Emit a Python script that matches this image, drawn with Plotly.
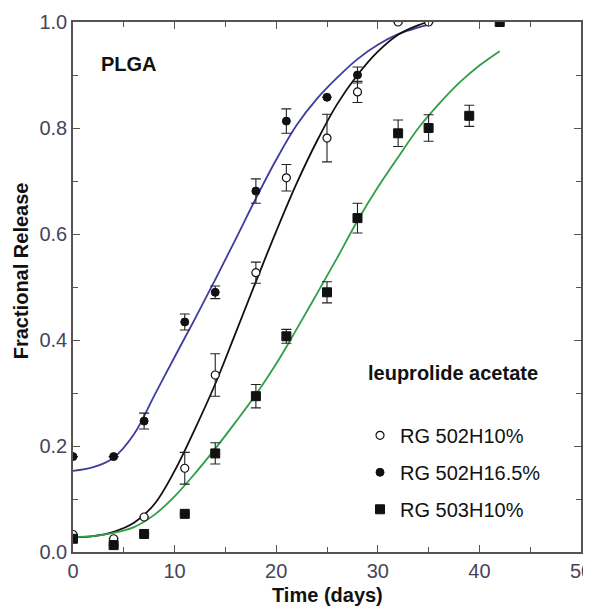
import plotly.graph_objects as go

# ---- data ----
t_502h10 = [0, 4, 7, 11, 14, 18, 21, 25, 28, 32, 35]
y_502h10 = [0.033, 0.025, 0.066, 0.158, 0.334, 0.527, 0.706, 0.781, 0.868, 1.0, 1.0]
e_502h10 = [0.0, 0.0, 0.0, 0.030, 0.040, 0.020, 0.025, 0.045, 0.020, 0.0, 0.0]

t_502h165 = [0, 4, 7, 11, 14, 18, 21, 25, 28]
y_502h165 = [0.180, 0.180, 0.247, 0.434, 0.490, 0.681, 0.813, 0.858, 0.900]
e_502h165 = [0.0, 0.0, 0.015, 0.015, 0.012, 0.023, 0.023, 0.0, 0.015]

t_503h10 = [0, 4, 7, 11, 14, 18, 21, 25, 28, 32, 35, 39, 42]
y_503h10 = [0.025, 0.013, 0.034, 0.072, 0.186, 0.294, 0.407, 0.490, 0.630, 0.790, 0.800, 0.823, 1.0]
e_503h10 = [0.0, 0.0, 0.0, 0.0, 0.020, 0.022, 0.013, 0.020, 0.028, 0.025, 0.025, 0.020, 0.0]

# fitted curves
fit_165_t = [0, 2, 4, 6, 8, 10, 12, 14, 16, 18, 20, 22, 24, 26, 28, 30, 32, 34, 35]
fit_165_y = [0.153, 0.160, 0.178, 0.222, 0.295, 0.368, 0.440, 0.514, 0.590, 0.667,
             0.740, 0.805, 0.855, 0.895, 0.930, 0.957, 0.977, 0.990, 0.995]

fit_10_t = [0, 2, 4, 6, 8, 10, 12, 14, 16, 18, 20, 22, 24, 26, 28, 30, 32, 34, 35]
fit_10_y = [0.028, 0.030, 0.038, 0.055, 0.090, 0.153, 0.232, 0.317, 0.413, 0.510,
            0.605, 0.695, 0.775, 0.845, 0.900, 0.944, 0.976, 0.994, 1.0]

fit_503_t = [0, 2, 4, 6, 8, 10, 12, 14, 16, 18, 20, 22, 24, 26, 28, 30, 32, 34, 36, 38, 40, 42]
fit_503_y = [0.028, 0.030, 0.036, 0.047, 0.070, 0.105, 0.148, 0.195, 0.245, 0.297, 0.355,
             0.420, 0.487, 0.555, 0.625, 0.688, 0.745, 0.800, 0.845, 0.885, 0.918, 0.945]

x_ticks = [0, 10, 20, 30, 40, 50]
y_ticks = [0.0, 0.2, 0.4, 0.6, 0.8, 1.0]
y_ticktext = ["0.0", "0.2", "0.4", "0.6", "0.8", "1.0"]

FONT = "Liberation Sans, Arial, sans-serif"
AX = "#5a5252"
TICKC = "#45455a"

fig = go.Figure()

fig.add_trace(go.Scatter(x=fit_165_t, y=fit_165_y, mode="lines", line=dict(color="#3d3d9e", width=1.8, shape="spline"),
                         showlegend=False, hoverinfo="skip"))
fig.add_trace(go.Scatter(x=fit_10_t, y=fit_10_y, mode="lines", line=dict(color="#111111", width=1.8, shape="spline"),
                         showlegend=False, hoverinfo="skip"))
fig.add_trace(go.Scatter(x=fit_503_t, y=fit_503_y, mode="lines", line=dict(color="#2f9e46", width=1.8, shape="spline"),
                         showlegend=False, hoverinfo="skip"))

err_style = dict(type="data", thickness=1.1, width=5, color="#222222")

fig.add_trace(go.Scatter(x=t_502h10, y=y_502h10, mode="markers", name="RG 502H10%", legendgroup="a",
                         error_y=dict(array=e_502h10, **err_style),
                         marker=dict(symbol="circle", size=8, color="white", line=dict(color="#111111", width=1.2))))
fig.add_trace(go.Scatter(x=t_502h165, y=y_502h165, mode="markers", name="RG 502H16.5%", legendgroup="b",
                         error_y=dict(array=e_502h165, **err_style),
                         marker=dict(symbol="circle", size=8, color="#111111", line=dict(color="#111111", width=1))))
fig.add_trace(go.Scatter(x=t_503h10, y=y_503h10, mode="markers", name="RG 503H10%", legendgroup="c",
                         error_y=dict(array=e_503h10, **err_style),
                         marker=dict(symbol="square", size=9, color="#111111", line=dict(color="#111111", width=1))))

axis_common = dict(showline=True, linecolor=AX, linewidth=1.5, mirror="allticks", ticks="inside",
                   tickcolor=AX, ticklen=7, tickwidth=1.2, showgrid=False, zeroline=False, automargin=False,
                   ticklabeloverflow="allow",
                   tickfont=dict(family=FONT, size=20, color=TICKC))

fig.update_xaxes(range=[0, 50], tickvals=x_ticks,
                 minor=dict(ticks="inside", ticklen=5, tickcolor=AX, dtick=5, tick0=0, showgrid=False),
                 **axis_common)
fig.update_yaxes(range=[0, 1.0], tickvals=y_ticks, ticktext=y_ticktext,
                 minor=dict(ticks="inside", ticklen=5, tickcolor=AX, dtick=0.1, tick0=0, showgrid=False),
                 **axis_common)

# the page body adds an 8px margin, so the figure is 8px smaller than the window
fig.update_layout(
    width=583, height=601,
    margin=dict(l=65, r=10, t=14, b=57, autoexpand=False),
    paper_bgcolor="white", plot_bgcolor="white",
    font=dict(family=FONT, color="#111111"),
    legend=dict(x=0.565, y=0.257, xanchor="left", yanchor="top", bgcolor="rgba(0,0,0,0)",
                font=dict(family=FONT, size=20, color="#111111"), tracegroupgap=8),
    annotations=[
        dict(text="<b>PLGA</b>", xref="paper", yref="paper", x=0.052, y=0.920, xanchor="left", yanchor="middle",
             showarrow=False, font=dict(family=FONT, size=20, color="#111111")),
        dict(text="<b>leuprolide acetate</b>", xref="paper", yref="paper", x=0.576, y=0.338, xanchor="left",
             yanchor="middle", showarrow=False, font=dict(family=FONT, size=20, color="#111111")),
        dict(text="<b>Fractional Release</b>", xref="paper", yref="paper", x=-0.102, y=0.530, xanchor="center",
             yanchor="middle", textangle=-90, showarrow=False, font=dict(family=FONT, size=20, color="#111111")),
        dict(text="<b>Time (days)</b>", xref="paper", yref="paper", x=0.501, y=-0.081, xanchor="center",
             yanchor="middle", showarrow=False, font=dict(family=FONT, size=20, color="#111111")),
    ],
)

fig.write_html("out.html")
